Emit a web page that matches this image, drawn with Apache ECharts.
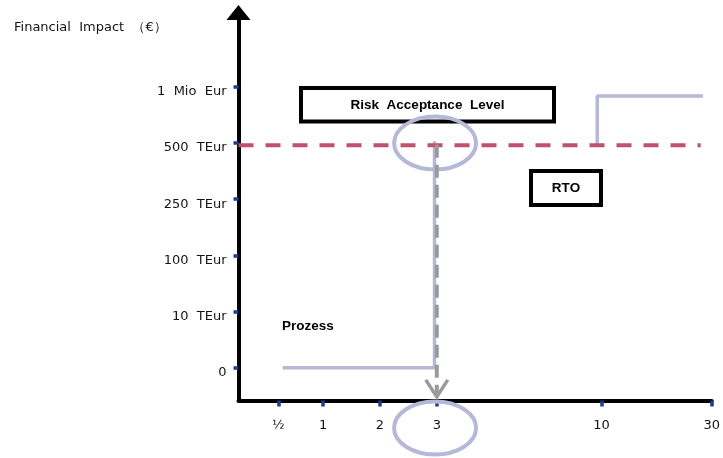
<!DOCTYPE html>
<html>
<head>
<meta charset="utf-8">
<script src="https://cdn.jsdelivr.net/npm/echarts@6/dist/echarts.min.js"></script>
<style>
  html, body { margin: 0; padding: 0; background: #fff; }
  #chart { width: 723px; height: 458px; }
</style>
</head>
<body>
<div id="chart"></div>
<script>
// Impact levels on the vertical axis (index = level)
const yLabels = ['0', '10  TEur', '100  TEur', '250  TEur', '500  TEur', '1  Mio  Eur'];
const yLevels = [0, 1, 2, 3, 4, 5];

// Outage duration ticks (days) and where each one sits on the schematic time axis (0–10)
const xLabels = ['½', '1', '2', '3', '10', '30'];
const xDays = [0.5, 1, 2, 3, 10, 30];
const xSlots = [0.84, 1.79, 2.99, 4.19, 7.67, 10];

// Process impact curve: flat, then jumps at day 3
const prozessDays = [0.55, 2.96, 2.96];
const prozessLevel = [0, 0, 4.03];

// Upper step (RTO side)
const rtoDays = [9.82, 9.82, 28.4];
const rtoLevel = [3.96, 4.84, 4.84];

// Risk acceptance level
const acceptDays = [0, 28.0];
const acceptLevel = [3.96, 3.96];

// Dashed drop from the acceptance crossing down to the time axis
const dropDays = [3];
const dropFrom = [3.97];
const dropTo = [-0.52];

// Highlight rings
const ringDays = [2.97, 2.97];
const ringLevel = [4.0, -1.075];

// piecewise-linear placement of a duration (days) on the schematic axis
function slotOf(d) {
  const ds = [0].concat(xDays), ss = [0].concat(xSlots);
  for (let i = 1; i < ds.length; i++) {
    if (d <= ds[i]) return ss[i - 1] + (ss[i] - ss[i - 1]) * (d - ds[i - 1]) / (ds[i] - ds[i - 1]);
  }
  return ss[ss.length - 1];
}
const pairs = (xs, ys) => xs.map((x, i) => [slotOf(x), ys[i]]);

const LAV = '#b5b9d7';
const NAVY = '#1d3c8f';
const INK = '#141414';
const FONT = '"DejaVu Sans", sans-serif';
const BOLD = 'bold 13.5px "Liberation Sans", Arial, sans-serif';

const chart = echarts.init(document.getElementById('chart'), null, { renderer: 'canvas' });

chart.setOption({
  animation: false,
  backgroundColor: '#fff',
  grid: { left: 238.5, right: 11, top: 12.5, bottom: 57.5, containLabel: false },
  xAxis: {
    type: 'value', min: 0, max: 10,
    splitLine: { show: false },
    axisLine: { show: true, onZero: false, lineStyle: { color: '#000', width: 4 } },
    axisTick: { show: true, customValues: xSlots, length: 6, lineStyle: { color: NAVY, width: 3.5 } },
    axisLabel: {
      show: true, customValues: xSlots, margin: 19, color: INK, fontSize: 13, fontFamily: FONT,
      formatter: v => {
        let best = 0;
        xSlots.forEach((s, i) => { if (Math.abs(s - v) < Math.abs(xSlots[best] - v)) best = i; });
        return xLabels[best];
      }
    }
  },
  yAxis: {
    type: 'value', min: -0.585, max: 6.325,
    splitLine: { show: false },
    axisLine: {
      show: true, onZero: false, symbol: ['none', 'triangle'], symbolSize: [24, 15],
      lineStyle: { color: '#000', width: 4 }
    },
    axisTick: { show: true, customValues: yLevels, length: 5, lineStyle: { color: NAVY, width: 3.5 } },
    axisLabel: {
      show: true, customValues: yLevels, margin: 12, color: INK, fontSize: 13, fontFamily: FONT,
      verticalAlign: 'top', lineHeight: 10,
      formatter: v => yLabels[Math.round(v)]
    }
  },
  series: [
    {
      name: 'Prozess', type: 'line', data: pairs(prozessDays, prozessLevel),
      symbol: 'none', lineStyle: { color: LAV, width: 3.5 }, z: 2
    },
    {
      name: 'RTO', type: 'line', data: pairs(rtoDays, rtoLevel),
      symbol: 'none', lineStyle: { color: LAV, width: 3.5 }, z: 2
    },
    {
      name: 'Risk Acceptance Level', type: 'line', data: pairs(acceptDays, acceptLevel),
      symbol: 'none', lineStyle: { color: '#c0506d', width: 4, type: [15, 12] }, z: 3
    },
    {
      name: 'rings', type: 'custom', clip: false, z: 4,
      data: pairs(ringDays, ringLevel),
      renderItem: (params, api) => {
        const p = api.coord([api.value(0), api.value(1)]);
        return {
          type: 'ellipse',
          shape: { cx: p[0], cy: p[1], rx: 41, ry: 26.5 },
          style: { fill: 'none', stroke: LAV, lineWidth: 4 }
        };
      }
    },
    {
      name: 'drop', type: 'custom', clip: false, z: 5,
      data: dropDays.map((d, i) => [slotOf(d), dropFrom[i], dropTo[i]]),
      renderItem: (params, api) => {
        const a = api.coord([api.value(0), api.value(1)]);
        const b = api.coord([api.value(0), api.value(2)]);
        return {
          type: 'group',
          children: [
            {
              type: 'line',
              shape: { x1: a[0], y1: a[1], x2: b[0], y2: b[1] - 2 },
              style: { stroke: '#9a9a9a', lineWidth: 4, lineDash: [13, 7] }
            },
            {
              type: 'polyline',
              shape: { points: [[b[0] - 11, b[1] - 17], [b[0], b[1]], [b[0] + 11, b[1] - 17]] },
              style: { stroke: '#9a9a9a', lineWidth: 3.5, fill: 'none' }
            }
          ]
        };
      }
    }
  ],
  graphic: [
    {
      type: 'text', left: 14, top: 21,
      style: { text: 'Financial  Impact  （€）', fill: INK, font: '13px ' + FONT }
    },
    {
      type: 'group', left: 299, top: 86,
      children: [
        { type: 'rect', shape: { x: 2, y: 2, width: 253, height: 33.5 }, style: { fill: '#fff', stroke: '#000', lineWidth: 4 } },
        { type: 'text', x: 128.5, y: 19, style: { text: 'Risk  Acceptance  Level', fill: '#000', font: BOLD, align: 'center', verticalAlign: 'middle' } }
      ]
    },
    {
      type: 'group', left: 529, top: 169,
      children: [
        { type: 'rect', shape: { x: 2, y: 2, width: 70, height: 34 }, style: { fill: '#fff', stroke: '#000', lineWidth: 4 } },
        { type: 'text', x: 37, y: 19.5, style: { text: 'RTO', fill: '#000', font: BOLD, align: 'center', verticalAlign: 'middle' } }
      ]
    },
    {
      type: 'text', left: 282, top: 319,
      style: { text: 'Prozess', fill: '#000', font: BOLD }
    }
  ]
});
</script>
</body>
</html>
